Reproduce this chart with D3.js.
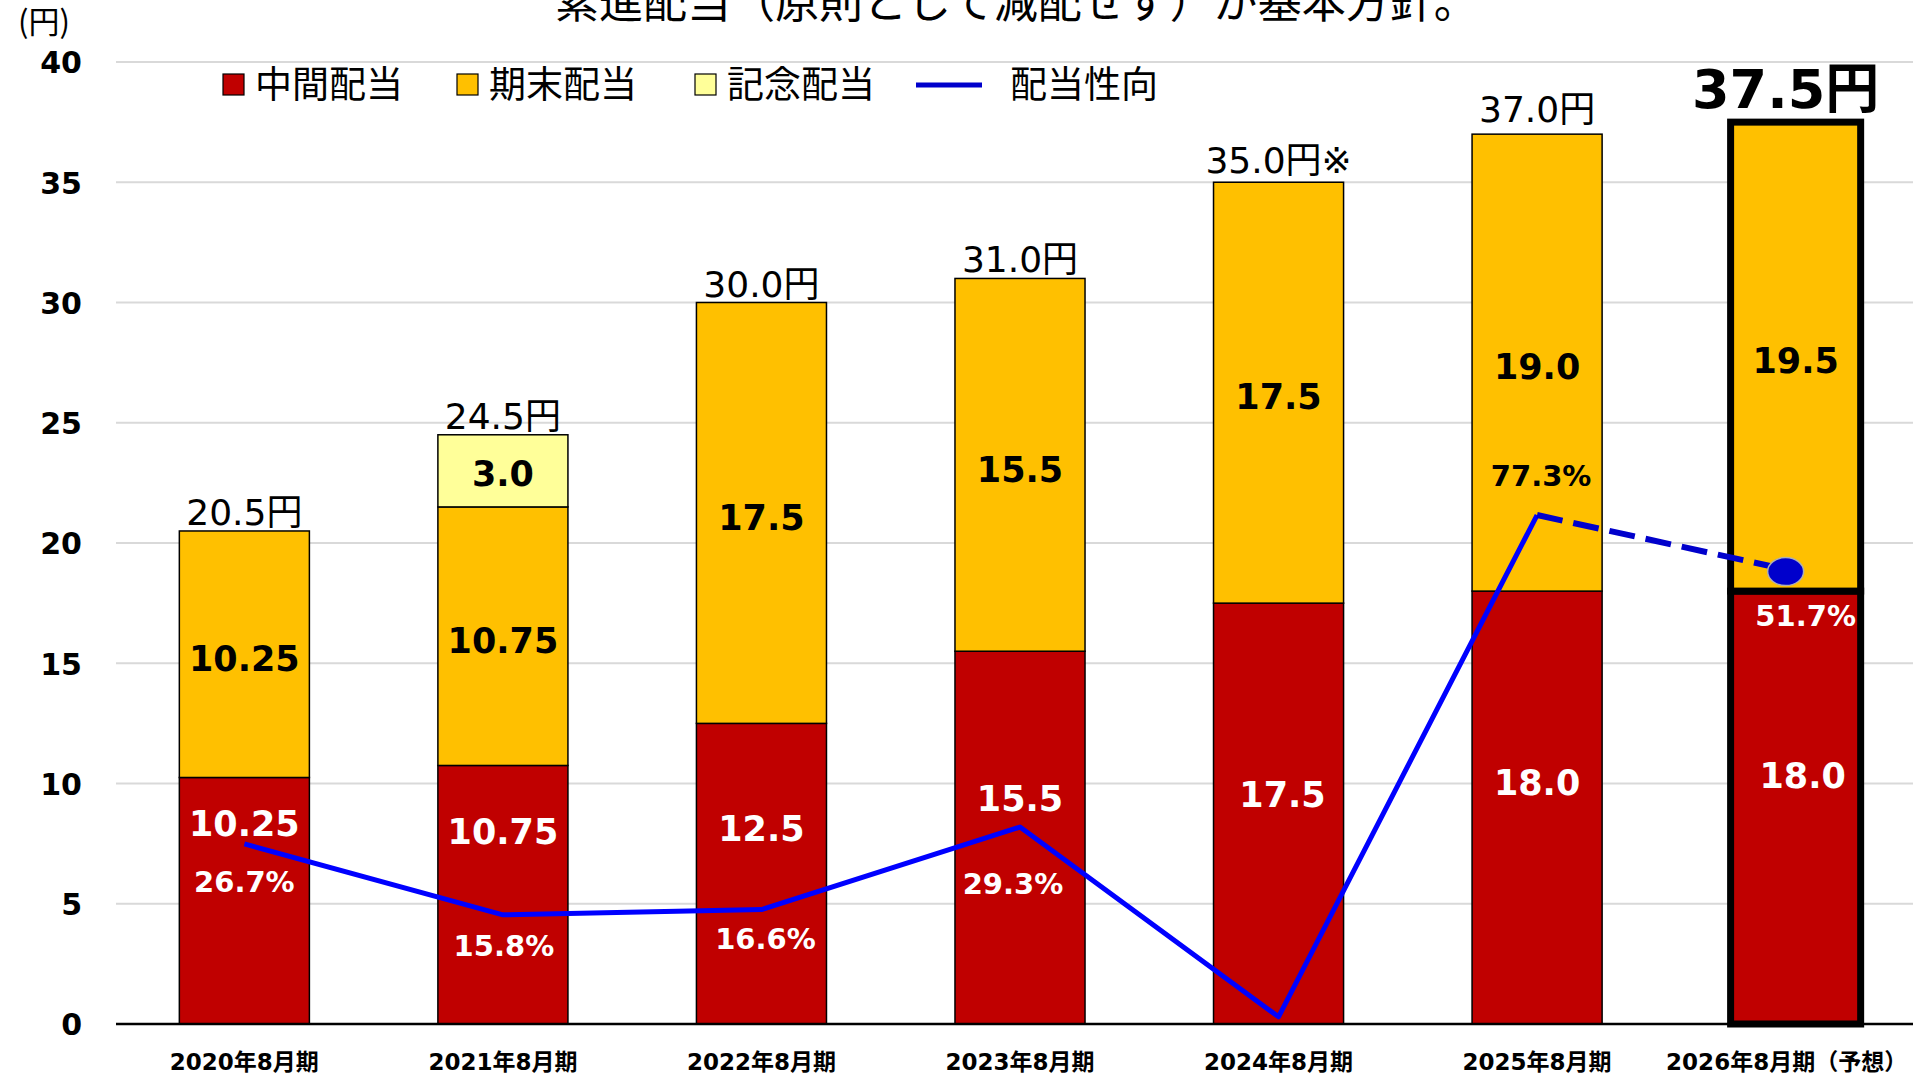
<!DOCTYPE html>
<html lang="ja">
<head>
<meta charset="utf-8">
<title>配当推移</title>
<style>
body{margin:0;background:#fff;}
svg{display:block;}
.num{font-family:"DejaVu Sans","Noto Sans CJK JP",sans-serif;}
.jp{font-family:"Noto Sans CJK JP","DejaVu Sans",sans-serif;}
</style>
</head>
<body>
<script src="https://cdn.jsdelivr.net/npm/d3@7"></script>
<script>

// data
var periods = ["2020年8月期","2021年8月期","2022年8月期","2023年8月期","2024年8月期","2025年8月期","2026年8月期（予想）"];
var interim = [10.25, 10.75, 12.5, 15.5, 17.5, 18.0, 18.0];   // 中間配当
var yearEnd = [10.25, 10.75, 17.5, 15.5, 17.5, 19.0, 19.5];   // 期末配当
var commem  = [0, 3.0, 0, 0, 0, 0, 0];                         // 記念配当
var totalNote = ["", "", "", "", "※", "", ""];
var payout = [26.7, 15.8, 16.6, 29.3, 0.1, 77.3, 68.6];        // 配当性向 (as plotted; forecast marker sits higher than its label)
var payoutLabel = ["26.7%", "15.8%", "16.6%", "29.3%", "", "77.3%", "51.7%"];
var yTicks = [0, 5, 10, 15, 20, 25, 30, 35, 40];
var seriesNames = ["中間配当", "期末配当", "記念配当", "配当性向"];
var title = "累進配当（原則として減配せず）が基本方針。";

// layout
var W = 1913, H = 1074;
var plotLeft = 116, plotTop = 62, plotBottom = 1024;
var forecast = periods.length - 1;
var interimLabelAt = [8.36, 8.02, 8.15, 9.36, 9.56, 10.06, 10.35]; // where the white labels sit (in 円)
var totalDy = [-6, -6, -6, -6, -9, -12, -14];
var payoutDx = [0, 1, 4, -7, 0, 4, 10];
var payoutDy = [38, 31, 29, 57, 0, -39, 44];
var colors = {interim: "#c00000", yearEnd: "#ffc000", commem: "#ffff99", line: "#0000ff", dash: "#0000cc"};

var svg = d3.select("body").append("svg").attr("width", W).attr("height", H);

var x = d3.scaleBand().domain(periods).range([plotLeft, 1924]).paddingInner(0.497).paddingOuter(0.245);
var y = d3.scaleLinear().domain([0, 40]).range([plotBottom, plotTop]);
var y2 = d3.scaleLinear().domain([-1, 147]).range([plotBottom, plotTop]);

function fmt(v){ return Number.isInteger(v) ? v.toFixed(1) : String(v); }

// title (cut off at top like the slide)
svg.append("text").attr("class", "jp").attr("x", 555).attr("y", 18)
  .attr("font-size", 44).attr("fill", "#000").text(title);

// unit
svg.append("text").attr("class", "jp").attr("x", 44).attr("y", 33)
  .attr("text-anchor", "middle").attr("font-size", 31).text("(円)");

// grid
svg.append("g").selectAll("line").data(yTicks.filter(function(d){return d > 0;})).enter().append("line")
  .attr("x1", plotLeft).attr("x2", W)
  .attr("y1", function(d){return y(d);}).attr("y2", function(d){return y(d);})
  .attr("stroke", "#d9d9d9").attr("stroke-width", 2);

// y axis
var yAxis = d3.axisLeft(y).tickValues(yTicks).tickSize(0).tickPadding(0);
var yg = svg.append("g").attr("transform", "translate(82,0)").call(yAxis);
yg.select(".domain").remove();
yg.selectAll("text").attr("class", "num").attr("font-size", 30).attr("font-weight", "bold")
  .attr("fill", "#000").attr("dy", "0.36em");

// stacked bars
var rows = periods.map(function(p, i){ return {period: p, interim: interim[i], yearEnd: yearEnd[i], commem: commem[i]}; });
var stack = d3.stack().keys(["interim", "yearEnd", "commem"]);
var layers = stack(rows);

var barg = svg.append("g");
layers.forEach(function(layer){
  barg.selectAll("rect." + layer.key).data(layer.filter(function(d){return d[1] - d[0] > 0;})).enter().append("rect")
    .attr("class", layer.key)
    .attr("x", function(d){return x(d.data.period);})
    .attr("y", function(d){return y(d[1]);})
    .attr("width", x.bandwidth())
    .attr("height", function(d){return y(d[0]) - y(d[1]);})
    .attr("fill", colors[layer.key])
    .attr("stroke", "#000")
    .attr("stroke-width", function(d){return d.data.period == periods[forecast] ? 7 : 1.5;});
});

// x axis
var xAxis = d3.axisBottom(x).tickSize(0).tickSizeOuter(0);
var xg = svg.append("g").attr("transform", "translate(0," + plotBottom + ")").call(xAxis);
xg.select(".domain").attr("stroke", "#000").attr("stroke-width", 2.5).attr("d", "M" + plotLeft + ",0H" + W);
xg.selectAll("text").attr("class", "num").attr("font-size", 23).attr("font-weight", "bold")
  .attr("fill", "#000").attr("y", 38).attr("dy", "0.35em")
  .attr("dx", function(d, i){ return i == forecast ? -9 : 0; });

// segment labels
var lab = svg.append("g").attr("class", "num").attr("font-weight", "bold").attr("text-anchor", "middle");
rows.forEach(function(r, i){
  var cx = x(r.period) + x.bandwidth() / 2;
  lab.append("text").attr("x", cx + (i == 4 ? 4 : i == forecast ? 7 : 0)).attr("y", y(interimLabelAt[i]))
    .attr("dy", "0.36em").attr("font-size", 35).attr("fill", "#fff").text(fmt(r.interim));
  lab.append("text").attr("x", cx).attr("y", y(r.interim + r.yearEnd / 2))
    .attr("dy", "0.48em").attr("font-size", 35).attr("fill", "#000").text(fmt(r.yearEnd));
  if (r.commem > 0) {
    lab.append("text").attr("x", cx).attr("y", y(r.interim + r.yearEnd + r.commem / 2))
      .attr("dy", "0.42em").attr("font-size", 35).attr("fill", "#000").text(fmt(r.commem));
  }
  var total = r.interim + r.yearEnd + r.commem;
  var t = lab.append("text").attr("y", y(total) + totalDy[i]).text(total.toFixed(1) + "円" + totalNote[i]);
  if (i == forecast) {
    t.attr("x", cx - 10).attr("font-size", 54).attr("fill", "#000");
  } else {
    t.attr("x", cx).attr("font-size", 36).attr("font-weight", "normal").attr("fill", "#000");
  }
});

// payout ratio line
var pts = periods.map(function(p, i){ return [x(p) + x.bandwidth() / 2, y2(payout[i])]; });
var line = d3.line();
svg.append("path").attr("d", line(pts.slice(0, forecast)))
  .attr("fill", "none").attr("stroke", colors.line).attr("stroke-width", 5).attr("stroke-linejoin", "round");
svg.append("path").attr("d", line(pts.slice(forecast - 1)))
  .attr("fill", "none").attr("stroke", colors.dash).attr("stroke-width", 6).attr("stroke-dasharray", "26,11");
svg.append("ellipse").attr("cx", pts[forecast][0] - 10).attr("cy", pts[forecast][1])
  .attr("rx", 18).attr("ry", 14).attr("fill", colors.dash).attr("stroke", "#b0b0b0").attr("stroke-width", 1.5);

// payout labels
var plab = svg.append("g").attr("class", "num").attr("font-weight", "bold").attr("text-anchor", "middle");
pts.forEach(function(p, i){
  if (!payoutLabel[i]) return;
  plab.append("text").attr("x", p[0] + payoutDx[i]).attr("y", p[1] + payoutDy[i]).attr("dy", "0.36em")
    .attr("font-size", 29).attr("fill", i == 5 ? "#000" : "#fff").text(payoutLabel[i]);
});

// legend
var legX = [223, 457, 695, 916];
var leg = svg.append("g").attr("class", "jp");
seriesNames.forEach(function(name, i){
  if (i < 3) {
    leg.append("rect").attr("x", legX[i]).attr("y", 74).attr("width", 21).attr("height", 21)
      .attr("fill", [colors.interim, colors.yearEnd, colors.commem][i]).attr("stroke", "#000").attr("stroke-width", 1.2);
    leg.append("text").attr("x", legX[i] + 32).attr("y", 85).attr("dy", "0.36em").attr("font-size", 37).text(name);
  } else {
    leg.append("line").attr("x1", legX[i]).attr("x2", legX[i] + 66).attr("y1", 85).attr("y2", 85)
      .attr("stroke", colors.dash).attr("stroke-width", 5);
    leg.append("text").attr("x", legX[i] + 94).attr("y", 85).attr("dy", "0.36em").attr("font-size", 37).text(name);
  }
});

</script>
</body>
</html>
